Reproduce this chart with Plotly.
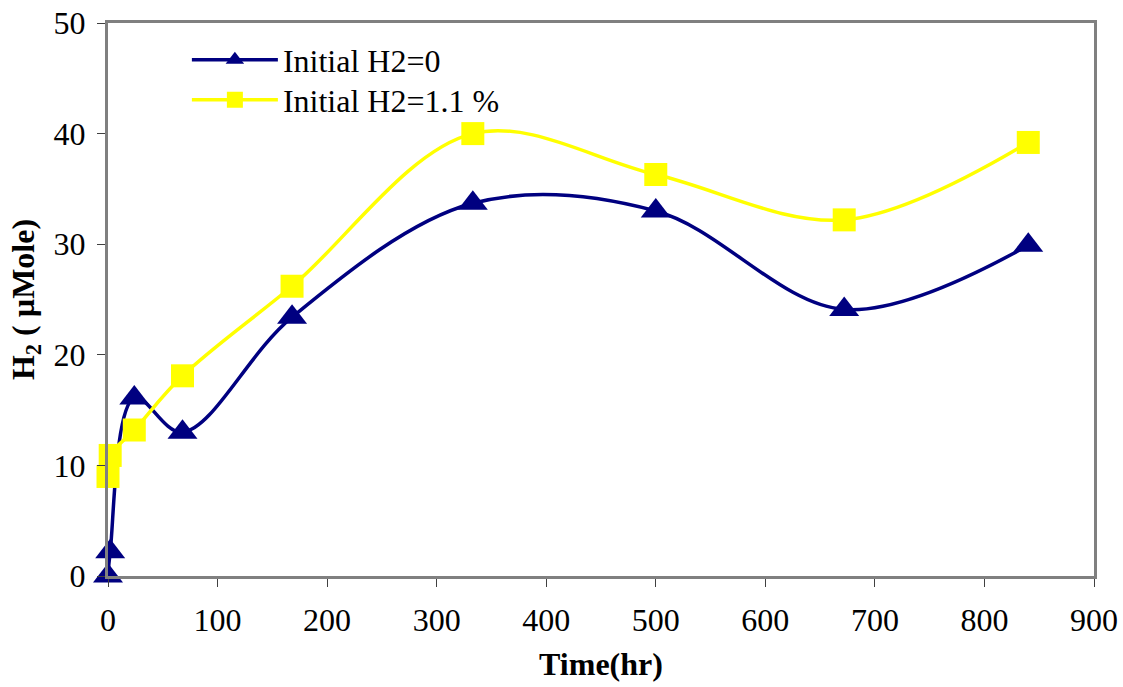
import plotly.graph_objects as go

time_hr = [0, 2, 24, 68, 168, 333, 500, 672, 840]
h2_initial_0 = [0.0, 2.2, 16.1, 13.0, 23.4, 33.7, 33.0, 24.1, 29.9]
h2_initial_1_1 = [9.0, 10.9, 13.2, 18.1, 26.2, 40.0, 36.3, 32.2, 39.2]
series_names = ["Initial H2=0", "Initial H2=1.1 %"]

FONT = "Liberation Serif"

fig = go.Figure()
fig.add_trace(go.Scatter(
    x=time_hr, y=h2_initial_0, name=series_names[0], mode="lines+markers",
    line=dict(color="#000080", width=3.5, shape="spline", smoothing=1),
    marker=dict(symbol="triangle-up", size=26, color="#000080"),
    cliponaxis=False, legend="legend", showlegend=True,
))
fig.add_trace(go.Scatter(
    x=time_hr, y=h2_initial_1_1, name=series_names[1], mode="lines+markers",
    line=dict(color="#FFFF00", width=3.5, shape="spline", smoothing=1),
    marker=dict(symbol="square", size=23, color="#FFFF00"),
    cliponaxis=False, legend="legend2", showlegend=True,
))

axis_common = dict(
    showline=True, mirror=True, linecolor="#808080", linewidth=3,
    ticks="outside", ticklen=8, tickcolor="#404040", tickwidth=1,
    showgrid=False, zeroline=False, automargin=False,
    tickfont=dict(family=FONT, size=32, color="black"),
)

legend_common = dict(
    x=0.08, xanchor="left", yanchor="middle", visible=True,
    bgcolor="rgba(0,0,0,0)", itemwidth=86,
    font=dict(family=FONT, size=32, color="black"),
)

fig.update_layout(
    width=1123, height=687,
    margin=dict(l=108, r=29, t=23, b=111),
    paper_bgcolor="white", plot_bgcolor="white",
    font=dict(family=FONT, color="black"),
    hovermode=False,
    showlegend=True,
    xaxis=dict(range=[0, 900], dtick=100, ticklabelstandoff=6,
               title=dict(text="<b>Time(hr)</b>", font=dict(family=FONT, size=32), standoff=16),
               **axis_common),
    yaxis=dict(range=[0, 50], dtick=10, ticklabelstandoff=5,
               title=dict(text="<b>H<sub>2</sub> ( µMole)</b>", font=dict(family=FONT, size=32), standoff=10),
               **axis_common),
    legend=dict(y=0.933, **legend_common),
    legend2=dict(y=0.861, **legend_common),
)

fig.write_html("out.html")
